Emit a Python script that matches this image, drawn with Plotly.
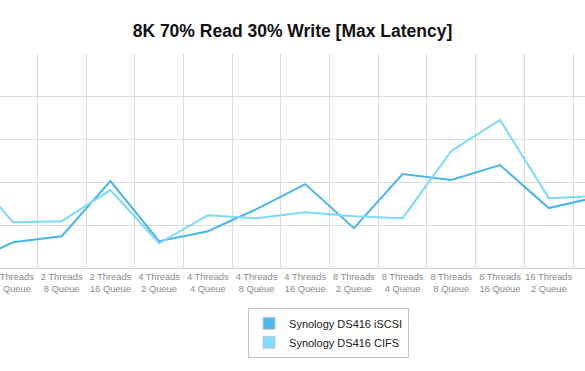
import plotly.graph_objects as go

categories = [
    "2 Threads<br>2 Queue", "2 Threads<br>4 Queue", "2 Threads<br>8 Queue", "2 Threads<br>16 Queue",
    "4 Threads<br>2 Queue", "4 Threads<br>4 Queue", "4 Threads<br>8 Queue", "4 Threads<br>16 Queue",
    "8 Threads<br>2 Queue", "8 Threads<br>4 Queue", "8 Threads<br>8 Queue", "8 Threads<br>16 Queue",
    "16 Threads<br>2 Queue", "16 Threads<br>4 Queue",
]
iscsi = [3.6, 30.1, 37.1, 101.5, 31.3, 43.0, 68.7, 98.0, 46.5, 109.8, 102.8, 120.3, 70.0, 82.9]
cifs = [119.7, 53.5, 54.7, 91.0, 28.9, 61.7, 58.2, 65.2, 60.5, 58.2, 136.7, 173.0, 81.6, 84.0]

series_names = ["Synology DS416 iSCSI", "Synology DS416 CIFS"]
line_colors = ["#47b6ea", "#7dd8fa"]
fill_colors = ["#4cb9ee", "#80dcfb"]
edge_colors = ["#c8c8c8", "#c8c8c8"]

fig = go.Figure()
for name, vals, lc in zip(series_names, [iscsi, cifs], line_colors):
    fig.add_trace(go.Scatter(x=categories, y=vals, mode="lines", name=name,
                             line=dict(color=lc, width=2), showlegend=False))
for name, fc, ec in zip(series_names, fill_colors, edge_colors):
    fig.add_trace(go.Bar(x=[None], y=[None], name=name,
                         marker=dict(color=fc, line=dict(color=ec, width=1))))

fig.update_layout(
    width=585, height=371,
    margin=dict(l=0, r=0, t=54, b=103, autoexpand=False),
    plot_bgcolor="white", paper_bgcolor="white",
    title=dict(text="<b>8K 70% Read 30% Write [Max Latency]</b>", x=0.5, xanchor="center",
               y=0.917, yanchor="middle",
               font=dict(family="Liberation Sans, Arial, sans-serif", size=17.5, color="#111")),
    font=dict(family="Liberation Sans, Arial, sans-serif"),
    showlegend=True,
    legend=dict(x=0.424, y=-0.186, xanchor="left", yanchor="top",
                bordercolor="#c4c4c4", borderwidth=1, bgcolor="white",
                font=dict(size=11, color="#222"), tracegroupgap=0),
    xaxis=dict(type="category", range=[0.733, 12.745], tickson="boundaries",
               showgrid=True, gridcolor="#dcdcdc", gridwidth=1,
               showline=True, linecolor="#d8d8d8", ticks="", tickangle=0,
               automargin=False,
               tickfont=dict(size=9.3, color="#8a8a8a")),
    yaxis=dict(range=[0, 250], dtick=50, showgrid=True, gridcolor="#dcdcdc",
               showticklabels=False, zeroline=False, showline=False, automargin=False),
)

fig.write_html("out.html", config={"displayModeBar": False},
               post_script="document.body.style.margin='0';")
